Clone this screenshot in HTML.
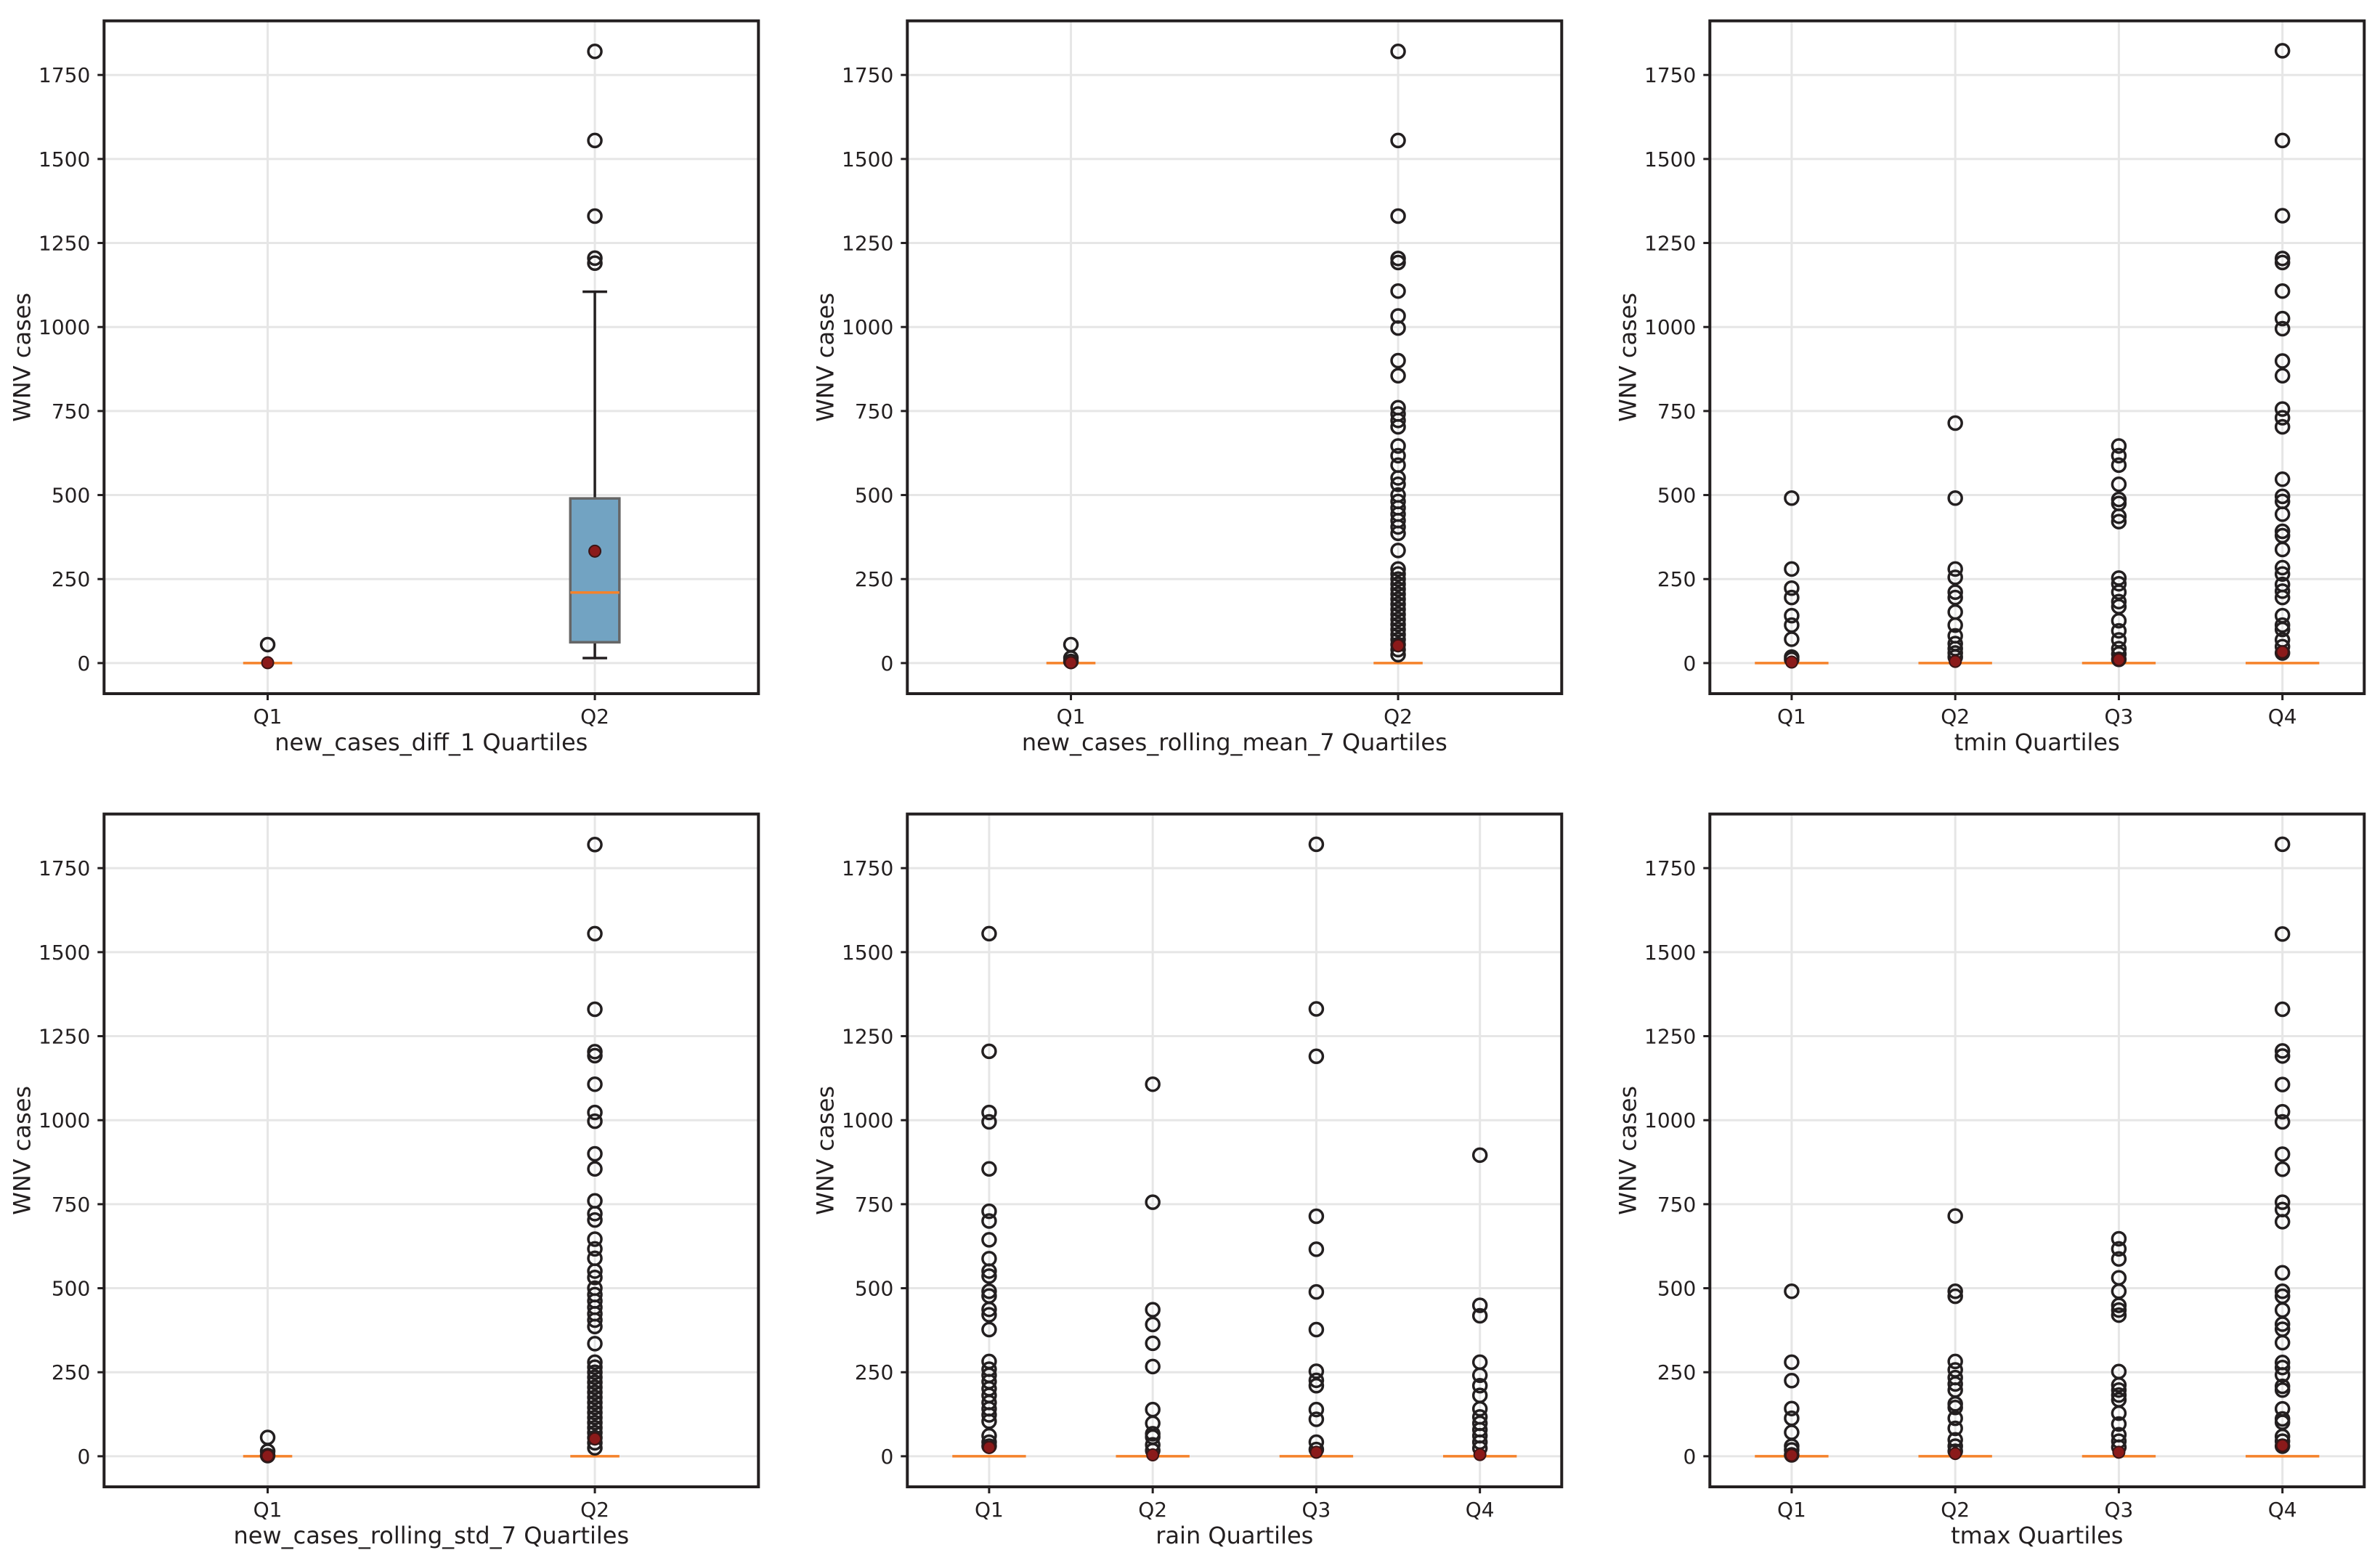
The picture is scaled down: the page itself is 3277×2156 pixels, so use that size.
<!DOCTYPE html>
<html><head><meta charset="utf-8"><style>
html,body{margin:0;padding:0;background:#fff;}
svg{display:block;font-family:"DejaVu Sans","Liberation Sans",sans-serif;}
</style></head><body>
<svg id="fig" width="3277" height="2156" viewBox="0 0 3277 2156" xmlns="http://www.w3.org/2000/svg"></svg>
<script>
// ---- data ----
const yTicks = [0, 250, 500, 750, 1000, 1250, 1500, 1750];
const panelTitles = ["new_cases_diff_1 Quartiles", "new_cases_rolling_mean_7 Quartiles", "tmin Quartiles", "new_cases_rolling_std_7 Quartiles", "rain Quartiles", "tmax Quartiles"];
const cats2 = ["Q1", "Q2"];
const cats4 = ["Q1", "Q2", "Q3", "Q4"];
// box stats per panel: [whiskerLow, q1, median, q3, whiskerHigh]
const p1Stats = [[0,0,0,0,0],[15,62,210,490,1105]];
const p1Means = [1, 333];
const p1Outliers = [[55],[1190,1205,1330,1555,1820]];
const p2Stats = [[0,0,0,0,0],[0,0,0,0,0]];
const p2Means = [1, 52];
const p2Outliers = [[55,15,5],[1820,1555,1330,1204,1192,1107,1033,997,900,855,760,741,722,703,646,617,589,551,532,500,481,462,443,424,405,386,335,280,265,250,235,220,205,190,175,160,145,130,115,100,85,70,55,40,25]];
const p3Stats = [[0,0,0,0,0],[0,0,0,0,0],[0,0,0,0,0],[0,0,0,0,0]];
const p3Means = [3, 5, 10, 33];
const p3Outliers = [[491,280,223,195,141,113,71,18,11],[714,491,280,255,211,195,152,113,81,58,43,30,18],[646,617,589,532,487,475,437,421,253,236,211,183,168,126,96,69,43,27,11],[1822,1555,1331,1204,1192,1107,1025,995,899,855,756,730,703,547,496,481,443,392,379,338,284,265,234,214,195,141,113,100,69,49,30]];
const p4Stats = [[0,0,0,0,0],[0,0,0,0,0]];
const p4Means = [1, 52];
const p4Outliers = [[56,15,2],[1820,1555,1330,1204,1192,1107,1023,997,900,855,760,722,703,646,617,589,551,532,500,481,462,443,424,405,386,335,280,265,250,235,220,205,190,175,160,145,130,115,100,85,70,55,40,25]];
const p5Stats = [[0,0,0,0,0],[0,0,0,0,0],[0,0,0,0,0],[0,0,0,0,0]];
const p5Means = [26, 4, 12, 5];
const p5Outliers = [[1555,1205,1023,995,855,729,700,644,588,551,536,491,477,437,421,377,282,259,241,222,201,181,160,141,123,104,61,42,30],[1107,756,436,392,336,267,139,98,67,57,34,17],[1821,1331,1190,714,616,489,377,253,226,210,139,110,42,20],[896,449,418,280,241,210,181,141,117,98,79,61,42,24]];
const p6Stats = [[0,0,0,0,0],[0,0,0,0,0],[0,0,0,0,0],[0,0,0,0,0]];
const p6Means = [3, 8, 12, 32];
const p6Outliers = [[491,280,225,142,113,71,30,19,4],[715,491,476,282,257,234,215,197,156,145,113,83,49,30,15],[647,617,587,531,491,449,435,420,252,212,197,182,168,128,96,64,45,27],[1821,1554,1330,1206,1191,1106,1025,995,899,854,756,734,698,546,491,476,435,393,378,338,279,264,242,208,197,141,111,101,59,45,30]];

const panels = [
 {cats:cats2, stats:p1Stats, means:p1Means, out:p1Outliers, title:panelTitles[0]},
 {cats:cats2, stats:p2Stats, means:p2Means, out:p2Outliers, title:panelTitles[1]},
 {cats:cats4, stats:p3Stats, means:p3Means, out:p3Outliers, title:panelTitles[2]},
 {cats:cats2, stats:p4Stats, means:p4Means, out:p4Outliers, title:panelTitles[3]},
 {cats:cats4, stats:p5Stats, means:p5Means, out:p5Outliers, title:panelTitles[4]},
 {cats:cats4, stats:p6Stats, means:p6Means, out:p6Outliers, title:panelTitles[5]}
];

const NS = "http://www.w3.org/2000/svg";
const svg = document.getElementById("fig");
function mk(tag, attrs, parent){
  const e = document.createElementNS(NS, tag);
  for (const k in attrs) e.setAttribute(k, attrs[k]);
  (parent||svg).appendChild(e);
  return e;
}
const W = 901, H = 926.3;
const lefts = [143.3, 1249.3, 2354.3];
const tops = [28.7, 1120.7];
const Y0 = -91, Y1 = 1911;
const INK = "#231f20";

panels.forEach((p, i) => {
  const L = lefts[i % 3], T = tops[Math.floor(i / 3)];
  const n = p.cats.length;
  const xs = v => L + (v - 0.5) / n * W;
  const ys = v => T + (Y1 - v) / (Y1 - Y0) * H;
  const widthFrac = Math.min(0.15 * Math.max(n - 1, 1), 0.5);
  const bw = widthFrac * W / n;
  const g = mk("g", {});
  
  
  yTicks.forEach(t => {
    const l = mk("line", {x1:L, x2:L+W, y1:ys(t), y2:ys(t), stroke:"#e6e6e6", "stroke-width":3}, g);
    
    
  });
  p.cats.forEach((c, k) => {
    const l = mk("line", {x1:xs(k+1), x2:xs(k+1), y1:T, y2:T+H, stroke:"#e6e6e6", "stroke-width":3}, g);
    
    
  });
  p.cats.forEach((c, k) => {
    const cx = xs(k+1);
    const s = p.stats[k];
    const bg = mk("g", {}, g);
    
    
    mk("line", {x1:cx, x2:cx, y1:ys(s[0]), y2:ys(s[1]), stroke:INK, "stroke-width":3.5}, bg);
    mk("line", {x1:cx, x2:cx, y1:ys(s[3]), y2:ys(s[4]), stroke:INK, "stroke-width":3.5}, bg);
    if (s[4] > s[0]) {
      mk("line", {x1:cx-bw/4, x2:cx+bw/4, y1:ys(s[0]), y2:ys(s[0]), stroke:INK, "stroke-width":3.5}, bg);
      mk("line", {x1:cx-bw/4, x2:cx+bw/4, y1:ys(s[4]), y2:ys(s[4]), stroke:INK, "stroke-width":3.5}, bg);
    }
    if (s[3] > s[1]) {
      mk("rect", {x:cx-bw/2, y:ys(s[3]), width:bw, height:ys(s[1])-ys(s[3]), fill:"#72a3c2", stroke:"#666", "stroke-width":3.5}, bg);
    }
    const med = mk("line", {x1:cx-bw/2, x2:cx+bw/2, y1:ys(s[2]), y2:ys(s[2]), stroke:"#f5822a", "stroke-width":3.5}, bg);
    
    
    p.out[k].forEach(v => {
      const o = mk("circle", {cx:cx, cy:ys(v), r:9, fill:"none", stroke:INK, "stroke-width":3.5}, bg);
      
      
    });
    const m = mk("circle", {cx:cx, cy:ys(p.means[k]), r:8, fill:"#8b1a1a", stroke:"#3a1515", "stroke-width":2}, bg);
    
    
  });
  const fr = mk("rect", {x:L, y:T, width:W, height:H, fill:"none", stroke:INK, "stroke-width":4}, g);
  
  
  yTicks.forEach(t => {
    mk("line", {x1:L-9, x2:L, y1:ys(t), y2:ys(t), stroke:INK, "stroke-width":3}, g);
    const tx = mk("text", {x:L-19, y:ys(t)+10, "text-anchor":"end", "font-size":28, fill:INK}, g);
    tx.textContent = t;
    
    
  });
  p.cats.forEach((c, k) => {
    mk("line", {x1:xs(k+1), x2:xs(k+1), y1:T+H, y2:T+H+9, stroke:INK, "stroke-width":3}, g);
    const tx = mk("text", {x:xs(k+1), y:T+H+41, "text-anchor":"middle", "font-size":28, fill:INK}, g);
    tx.textContent = c;
    
    
  });
  const xt = mk("text", {x:L+W/2, y:T+H+78, "text-anchor":"middle", "font-size":32, fill:INK}, g);
  xt.textContent = p.title;
  
  
  const ycx = L - 102, ycy = T + H/2;
  const yt = mk("text", {x:ycx, y:ycy, "text-anchor":"middle", "font-size":32, fill:INK, transform:"rotate(-90 "+ycx+" "+ycy+")"}, g);
  yt.textContent = "WNV cases";
  
  
});
</script>
</body></html>
